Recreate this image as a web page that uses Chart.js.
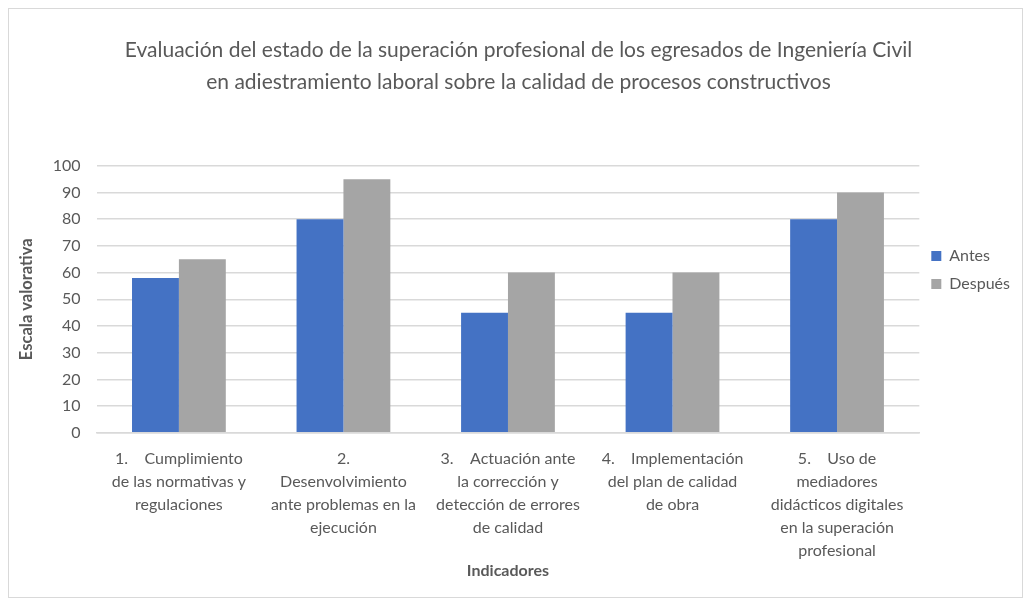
<!DOCTYPE html>
<html>
<head>
<meta charset="utf-8">
<script src="https://cdn.jsdelivr.net/npm/chart.js@4.4.1/dist/chart.umd.min.js"></script>
<style>
  html, body { margin: 0; padding: 0; background: #fff; }
  #wrap { position: absolute; left: 8px; top: 8px; width: 1015px; height: 590px; border: 1px solid #d9d9d9; box-sizing: border-box; }
</style>
</head>
<body>
<div id="wrap"><canvas id="chart"></canvas></div>
<script>
// Data
var categories = [
  ['1.    Cumplimiento', 'de las normativas y', 'regulaciones'],
  ['2.', 'Desenvolvimiento', 'ante problemas en la', 'ejecución'],
  ['3.    Actuación ante', 'la corrección y', 'detección de errores', 'de calidad'],
  ['4.    Implementación', 'del plan de calidad', 'de obra'],
  ['5.    Uso de', 'mediadores', 'didácticos digitales', 'en la superación', 'profesional']
]
var antes = [58, 80, 45, 45, 80]
var despues = [65, 95, 60, 60, 90]
var seriesNames = ['Antes', 'Después']
var titleLines = [
  'Evaluación del estado de la superación profesional de los egresados de Ingeniería Civil',
  'en adiestramiento laboral sobre la calidad de procesos constructivos'
]

var textColor = '#595959'
var gridColor = '#d9d9d9'
var font = 'Lato, "Open Sans", sans-serif'

Chart.defaults.font.family = font
Chart.defaults.color = textColor

new Chart(document.getElementById('chart'), {
  type: 'bar',
  data: {
    labels: categories,
    datasets: [
      { label: seriesNames[0], data: antes, backgroundColor: '#4472c4' },
      { label: seriesNames[1], data: despues, backgroundColor: '#a5a5a5' }
    ]
  },
  options: {
    responsive: true,
    maintainAspectRatio: false,
    animation: false,
    categoryPercentage: 0.57,
    barPercentage: 1.0,
    layout: { padding: { left: 8, right: 2, top: 25, bottom: 17 } },
    plugins: {
      title: {
        display: true,
        text: titleLines,
        color: textColor,
        font: { size: 21, weight: 'normal', lineHeight: 1.52 },
        padding: { top: 0, bottom: 68 }
      },
      legend: {
        position: 'right',
        align: 'start',
        title: { display: true, text: ' ', font: { size: 10 }, padding: { top: 190, bottom: 0 } },
        labels: {
          boxWidth: 10,
          boxHeight: 10,
          padding: 12,
          color: textColor,
          font: { size: 16 }
        }
      },
      tooltip: { enabled: false }
    },
    scales: {
      x: {
        grid: { display: false },
        border: { color: gridColor, width: 1.5 },
        ticks: { color: textColor, font: { size: 16, lineHeight: 1.45 }, maxRotation: 0, autoSkip: false, padding: 6 },
        title: { display: true, text: 'Indicadores', color: textColor, font: { size: 16, weight: 'bold' }, padding: { top: -8, bottom: 0 } }
      },
      y: {
        min: 0,
        max: 100,
        ticks: { stepSize: 10, color: textColor, font: { size: 16 }, padding: 16 },
        grid: { color: gridColor, lineWidth: 1.5, drawTicks: false },
        border: { display: false },
        title: { display: true, text: 'Escala valorativa', color: textColor, font: { size: 16.5, weight: 'bold' }, padding: { top: 0, bottom: 0 } }
      }
    }
  }
})
</script>
</body>
</html>
